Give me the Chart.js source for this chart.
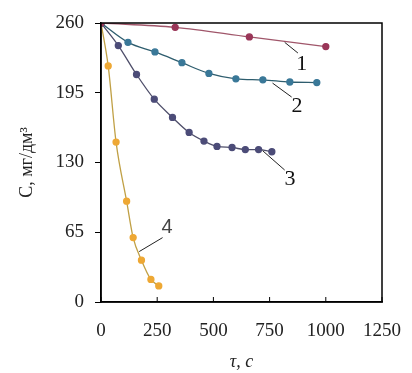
<!DOCTYPE html>
<html>
<head>
<meta charset="utf-8">
<script src="https://cdn.jsdelivr.net/npm/chart.js@4"></script>
<style>
  html, body { margin: 0; padding: 0; background: #fff; }
  #wrap { width: 412px; height: 373px; }
</style>
</head>
<body>
<div id="wrap"><canvas id="chart"></canvas></div>
<script>
  // данные кривых (τ, с -> C, мг/дм3)
  const x1 = [0, 330, 660, 1000];
  const y1 = [260, 256, 247, 238];

  const x2 = [0, 120, 240, 360, 480, 600, 720, 840, 960];
  const y2 = [260, 242, 233, 223, 213, 208, 207, 205, 204.5];

  const x3 = [0, 77, 158, 237, 318, 392, 458, 516, 583, 642, 701, 760];
  const y3 = [260, 239, 212, 189, 172, 158, 150, 145, 144, 142, 142, 140];

  const x4 = [0, 32, 67, 114, 143, 180, 222, 257];
  const y4 = [260, 220, 149, 94, 60, 39, 21, 15];

  const xTicks = [0, 250, 500, 750, 1000, 1250];
  const yTicks = [0, 65, 130, 195, 260];

  // подписи кривых: номер, начало выноски, конец выноски, место цифры
  const curveLabels = ["1", "2", "3", "4"];
  const leaderFrom = [[817, 242], [763, 204], [719, 141], [170, 47]];
  const leaderTo = [[876, 232], [848, 191], [817, 123], [274, 60]];
  const labelAt = [[893, 222], [872, 182], [841, 114], [294, 69]];

  const toPts = (xs, ys) => xs.map((x, i) => ({ x: x, y: ys[i] }));

  const series = (pts, point, line) => ({
    data: pts,
    showLine: true,
    borderColor: line,
    borderWidth: 1.3,
    pointBackgroundColor: point,
    pointBorderColor: point,
    pointRadius: 3,
    tension: 0.4,
    cubicInterpolationMode: "monotone",
  });

  const serif = "'Liberation Serif', 'DejaVu Serif', serif";

  // рамка, внутренние засечки по оси X и выноски с номерами
  const extras = {
    id: "extras",
    afterDraw(chart) {
      const { ctx, chartArea: a, scales } = chart;
      ctx.save();
      ctx.strokeStyle = "#000";
      ctx.lineWidth = 1.5;
      ctx.strokeRect(a.left, a.top, a.right - a.left, a.bottom - a.top);

      ctx.lineWidth = 1;
      xTicks.forEach((t) => {
        const px = scales.x.getPixelForValue(t);
        ctx.beginPath();
        ctx.moveTo(px, a.bottom);
        ctx.lineTo(px, a.bottom - 5);
        ctx.stroke();
      });

      curveLabels.forEach((lbl, i) => {
        ctx.strokeStyle = "#222";
        ctx.lineWidth = 1;
        ctx.beginPath();
        ctx.moveTo(scales.x.getPixelForValue(leaderFrom[i][0]), scales.y.getPixelForValue(leaderFrom[i][1]));
        ctx.lineTo(scales.x.getPixelForValue(leaderTo[i][0]), scales.y.getPixelForValue(leaderTo[i][1]));
        ctx.stroke();
        ctx.fillStyle = i === 3 ? "#444" : "#111";
        ctx.font = i === 3 ? "20px 'Liberation Sans', sans-serif" : "22px " + serif;
        ctx.textAlign = "center";
        ctx.textBaseline = "middle";
        ctx.fillText(lbl, scales.x.getPixelForValue(labelAt[i][0]), scales.y.getPixelForValue(labelAt[i][1]));
      });
      ctx.restore();
    },
  };

  new Chart(document.getElementById("chart"), {
    type: "scatter",
    data: {
      datasets: [
        series(toPts(x1, y1), "#9a3658", "#a0566a"),
        series(toPts(x2, y2), "#3a7898", "#2e5d6e"),
        series(toPts(x3, y3), "#4c4c78", "#4e4e6a"),
        series(toPts(x4, y4), "#eea834", "#c0a045"),
      ],
    },
    options: {
      responsive: true,
      maintainAspectRatio: false,
      animation: false,
      layout: { padding: { top: 23, right: 30, left: 16, bottom: 0 } },
      plugins: { legend: { display: false }, tooltip: { enabled: false } },
      scales: {
        x: {
          type: "linear",
          min: 0,
          max: 1250,
          afterBuildTicks: (s) => { s.ticks = xTicks.map((v) => ({ value: v })); },
          afterFit: (s) => {
            s.height = 71;
            s.paddingLeft = 0;
            s.paddingRight = 0;
          },
          grid: { display: false, drawTicks: false },
          border: { color: "#000", width: 1.5 },
          ticks: {
            color: "#222",
            padding: 18,
            maxRotation: 0,
            font: { family: serif, size: 19 },
            callback: (v) => String(v),
          },
          title: {
            display: true,
            text: "τ, с",
            color: "#222",
            padding: { top: 2, bottom: 0 },
            font: { family: serif, size: 18, style: "italic" },
          },
        },
        y: {
          type: "linear",
          min: 0,
          max: 260,
          afterBuildTicks: (s) => { s.ticks = yTicks.map((v) => ({ value: v })); },
          afterFit: (s) => { s.width = 85; },
          grid: { display: true, drawOnChartArea: false, tickLength: 6, color: "#000" },
          border: { color: "#000", width: 1.5 },
          ticks: { color: "#222", padding: 11, font: { family: serif, size: 19 }, callback: (v) => String(v) },
          title: {
            display: true,
            text: "C, мг/дм³",
            color: "#222",
            padding: { top: 0, bottom: 6 },
            font: { family: serif, size: 18 },
          },
        },
      },
    },
    plugins: [extras],
  });
</script>
</body>
</html>
